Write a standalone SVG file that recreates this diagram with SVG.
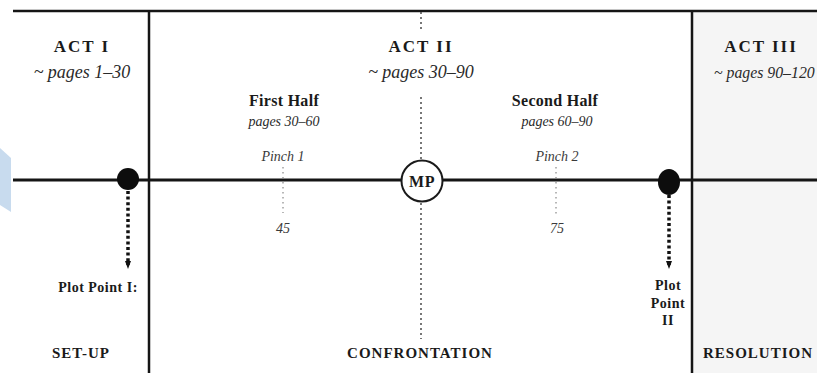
<svg xmlns="http://www.w3.org/2000/svg" width="817" height="373" viewBox="0 0 817 373">
<defs>
<style>
text{font-family:"Liberation Serif","DejaVu Serif",serif;fill:#1a1a1a;text-anchor:middle}
.act{font-size:17px;font-weight:bold;letter-spacing:2px}
.pages{font-size:18px;font-style:italic;fill:#2a2a2a}
.half{font-size:16px;font-weight:bold;letter-spacing:0.3px}
.sub{font-size:14px;font-style:italic;fill:#2a2a2a}
.pinch{font-size:14px;font-style:italic;fill:#3a3a3a}
.pp{font-size:14px;font-weight:bold;letter-spacing:0.5px}
.sect{font-size:15px;font-weight:bold;letter-spacing:1px}
.frame{stroke:#151515;stroke-width:2.5;fill:none}
.ppdots{stroke:#111;stroke-width:3.5;stroke-dasharray:3 2.6;fill:none}
.mpdots{stroke:#555;stroke-width:1.6;stroke-dasharray:2 3;fill:none}
.pdots{stroke:#888;stroke-width:1.2;stroke-dasharray:1.5 3.5;fill:none}
</style>
<marker id="tip" viewBox="0 0 8 8" refX="4" refY="4" markerWidth="8" markerHeight="8" markerUnits="userSpaceOnUse" orient="auto">
<path d="M0,1 L8,4 L0,7 Z" fill="#111"/>
</marker>
</defs>
<rect width="817" height="373" fill="#ffffff"/>
<rect x="692" y="11" width="125" height="362" fill="#f5f5f5"/>
<polygon points="0,148 11,158 11,212 0,205" fill="#c8dbee"/>

<g id="frame">
<line class="frame" x1="13" y1="11" x2="817" y2="11"/>
<line class="frame" x1="149" y1="11" x2="149" y2="373"/>
<line class="frame" x1="692" y1="11" x2="692" y2="373"/>
<line class="frame" x1="13" y1="180" x2="817" y2="180" style="stroke-width:3"/>
</g>

<g id="connectors">
<line class="mpdots" x1="421" y1="12" x2="421" y2="30"/>
<line class="mpdots" x1="421" y1="97" x2="421" y2="160"/>
<line class="mpdots" x1="421" y1="203" x2="421" y2="339"/>
<line class="pdots" x1="283" y1="167" x2="283" y2="213"/>
<line class="pdots" x1="556" y1="167" x2="556" y2="215"/>
<line class="ppdots" x1="128" y1="191" x2="128" y2="265" marker-end="url(#tip)"/>
<line class="ppdots" x1="669" y1="195" x2="669" y2="265" marker-end="url(#tip)"/>
</g>

<g id="act1">
<text class="act" x="82" y="52">ACT I</text>
<text class="pages" x="82" y="78">~ pages 1–30</text>
</g>
<g id="act2">
<text class="act" x="421" y="52">ACT II</text>
<text class="pages" x="421" y="78">~ pages 30–90</text>
</g>
<g id="act3">
<text class="act" x="761" y="52">ACT III</text>
<text class="pages" x="714" y="78" style="text-anchor:start;font-size:15.8px">~ pages 90–120</text>
</g>
<g id="first-half">
<text class="half" x="284" y="106">First Half</text>
<text class="sub" x="284" y="126">pages 30–60</text>
</g>
<g id="second-half">
<text class="half" x="555" y="106">Second Half</text>
<text class="sub" x="557" y="126">pages 60–90</text>
</g>
<g id="pinch1">
<text class="pinch" x="283" y="161">Pinch 1</text>
<text class="pinch" x="283" y="233">45</text>
</g>
<g id="pinch2">
<text class="pinch" x="557" y="161">Pinch 2</text>
<text class="pinch" x="557" y="233">75</text>
</g>
<g id="midpoint">
<circle cx="422" cy="181" r="20.5" fill="#fff" stroke="#1a1a1a" stroke-width="2"/>
<text x="422" y="187" style="font-size:16px;font-weight:bold;letter-spacing:0.5px">MP</text>
</g>
<g id="plot-point-1">
<circle cx="128" cy="179" r="11" fill="#0d0d0d"/>
<text class="pp" x="98" y="292">Plot Point I:</text>
</g>
<g id="plot-point-2">
<ellipse cx="669" cy="182" rx="11" ry="13" fill="#0d0d0d"/>
<text class="pp" x="668" y="290">Plot</text>
<text class="pp" x="668" y="308">Point</text>
<text class="pp" x="668" y="325">II</text>
</g>
<g id="setup"><text class="sect" x="81" y="358">SET-UP</text></g>
<g id="confrontation"><text class="sect" x="420" y="358">CONFRONTATION</text></g>
<g id="resolution"><text class="sect" x="758" y="358">RESOLUTION</text></g>
</svg>
